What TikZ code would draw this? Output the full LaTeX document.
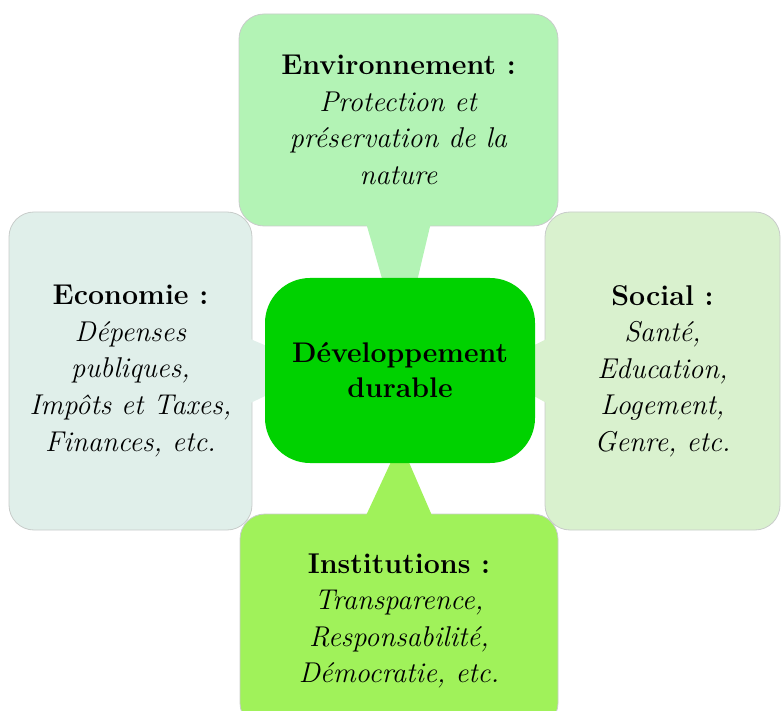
\documentclass[tikz,border=0pt]{standalone}
\usepackage{fontspec}
\usetikzlibrary{backgrounds}
\definecolor{envfill}{RGB}{179,243,181}
\definecolor{ecofill}{RGB}{224,239,234}
\definecolor{socfill}{RGB}{217,241,206}
\definecolor{instfill}{RGB}{160,242,90}
\definecolor{devfill}{RGB}{0,210,0}
\definecolor{edgegray}{RGB}{200,204,202}
\tikzset{
  pillar/.style={draw=edgegray,line width=0.4pt,rounded corners=12.5pt,align=center,
    inner sep=0pt,font=\fontsize{14.3}{18.3}\selectfont},
  core/.style={rounded corners=22.5pt,align=center,inner sep=0pt,
    minimum width=135pt,minimum height=92.5pt,font=\fontsize{14.2}{17.5}\selectfont\bfseries}
}
\begin{document}
\begin{tikzpicture}[x=0.5pt,y=-0.5pt]
%page size, in pixels from the top left corner
\useasboundingbox (0,0) rectangle (782,711);
%centre
\node[core,fill=devfill] (dev) at (400,370.5) {Développement\\ durable};
\begin{scope}[on background layer]
%four pillars
\node[pillar,fill=envfill,minimum width=159.5pt,minimum height=106pt] (env) at (398.5,120)
  {\textbf{Environnement :}\\ \textit{Protection et}\\ \textit{préservation de la}\\ \textit{nature}};
\node[pillar,fill=ecofill,minimum width=121.5pt,minimum height=159pt] (eco) at (130.5,371)
  {\textbf{Economie :}\\ \textit{Dépenses}\\ \textit{publiques,}\\ \textit{Impôts et Taxes,}\\ \textit{Finances, etc.}};
\node[pillar,fill=socfill,minimum width=117.5pt,minimum height=159pt] (soc) at (662.5,371)
  {\textbf{Social :}\\ \textit{Santé,}\\ \textit{Education,}\\ \textit{Logement,}\\ \textit{Genre, etc.}};
%bottom pillar runs past the page edge
\node[pillar,fill=instfill,minimum width=159pt,minimum height=107pt] (inst) at (399,621)
  {\textbf{Institutions :}\\ \textit{Transparence,}\\ \textit{Responsabilité,}\\ \textit{Démocratie, etc.}};
%pointers towards the centre
\fill[envfill] ([xshift=-16pt,yshift=1pt]env.south) -- ([xshift=16pt,yshift=1pt]env.south)
  -- ([xshift=8pt,yshift=-4pt]dev.north) -- ([xshift=-8pt,yshift=-4pt]dev.north) -- cycle;
\fill[instfill] ([xshift=-16.5pt,yshift=-1pt]inst.north) -- ([xshift=16.5pt,yshift=-1pt]inst.north)
  -- ([xshift=3pt,yshift=4pt]dev.south) -- ([xshift=-3pt,yshift=4pt]dev.south) -- cycle;
\fill[ecofill] ([xshift=-1pt,yshift=16pt]eco.east) -- ([xshift=-1pt,yshift=-16pt]eco.east)
  -- ([xshift=4pt,yshift=-11pt]dev.west) -- ([xshift=4pt,yshift=11pt]dev.west) -- cycle;
\fill[socfill] ([xshift=1pt,yshift=16pt]soc.west) -- ([xshift=1pt,yshift=-16pt]soc.west)
  -- ([xshift=-4pt,yshift=-11pt]dev.east) -- ([xshift=-4pt,yshift=11pt]dev.east) -- cycle;
\end{scope}
\end{tikzpicture}
\end{document}
